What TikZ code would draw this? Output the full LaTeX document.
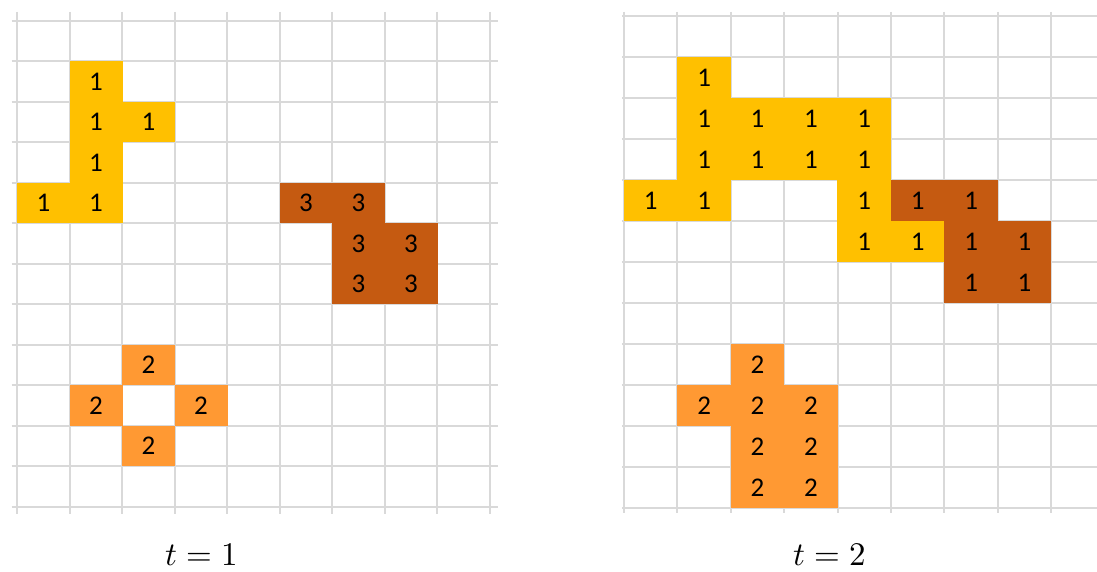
\documentclass[tikz,border=0pt]{standalone}
\usepackage{fontspec}
\usepackage{unicode-math}
\setmainfont{Carlito}
\setmathfont{Latin Modern Math}
\usetikzlibrary{positioning}
\definecolor{cellgold}{HTML}{FFC000}
\definecolor{cellrust}{HTML}{C55A11}
\definecolor{cellorange}{HTML}{FF9933}
\definecolor{gridgray}{HTML}{D9D9D9}

\begin{document}
\begin{tikzpicture}[x=1pt, y=-1pt,
  gridline/.style={draw=gridgray, line width=2pt},
  cell/.style={inner sep=0pt, text=black, font=\fontsize{27}{27}\selectfont},
  steplabel/.style={anchor=base, inner sep=0pt, font=\fontsize{33}{33}\selectfont},
]
\useasboundingbox (0,0) rectangle (1097,571);
% ---------- Panel t=1 (9 x 12 cells) ----------
\begin{scope}[shift={(17.3,20.7)}, x=52.5pt, y=-40.5pt,
  cell/.append style={minimum width=52.9pt, minimum height=40.9pt}]
\foreach \i in {0,...,9}
  \draw[gridline] (\i,-0.22) -- (\i,12.17);
\foreach \j in {0,...,12}
  \draw[gridline] (-0.11,\j) -- (9.16,\j);
% occupied cells: column/row/colour/label
\foreach \c/\r/\col/\n in {%
  1/1/cellgold/1, 1/2/cellgold/1, 2/2/cellgold/1, 1/3/cellgold/1,
  0/4/cellgold/1, 1/4/cellgold/1,
  5/4/cellrust/3, 6/4/cellrust/3, 6/5/cellrust/3, 7/5/cellrust/3,
  6/6/cellrust/3, 7/6/cellrust/3,
  2/8/cellorange/2, 1/9/cellorange/2, 3/9/cellorange/2, 2/10/cellorange/2%
} {
  \node[cell, fill=\col] (a-\c-\r) at (\c+0.5,\r+0.5) {\n};
}
\end{scope}

% ---------- Panel t=2 (9 x 12 cells) ----------
\begin{scope}[shift={(624,16)}, x=53.4pt, y=-41pt,
  cell/.append style={minimum width=53.8pt, minimum height=41.4pt}]
\foreach \i in {0,...,9}
  \draw[gridline] (\i,-0.1) -- (\i,12.12);
\foreach \j in {0,...,12}
  \draw[gridline] (-0.04,\j) -- (9.1,\j);
\foreach \c/\r/\col/\n in {%
  1/1/cellgold/1,
  1/2/cellgold/1, 2/2/cellgold/1, 3/2/cellgold/1, 4/2/cellgold/1,
  1/3/cellgold/1, 2/3/cellgold/1, 3/3/cellgold/1, 4/3/cellgold/1,
  0/4/cellgold/1, 1/4/cellgold/1, 4/4/cellgold/1,
  4/5/cellgold/1, 5/5/cellgold/1,
  5/4/cellrust/1, 6/4/cellrust/1, 6/5/cellrust/1, 7/5/cellrust/1,
  6/6/cellrust/1, 7/6/cellrust/1,
  2/8/cellorange/2, 1/9/cellorange/2, 2/9/cellorange/2, 3/9/cellorange/2,
  2/10/cellorange/2, 3/10/cellorange/2, 2/11/cellorange/2, 3/11/cellorange/2%
} {
  \node[cell, fill=\col] (b-\c-\r) at (\c+0.5,\r+0.5) {\n};
}
\end{scope}

% time step captions
\node[steplabel] (t1) at (202,565) {$t=1$};
\node[steplabel] (t2) at (829.5,565) {$t=2$};
\end{tikzpicture}
\end{document}
